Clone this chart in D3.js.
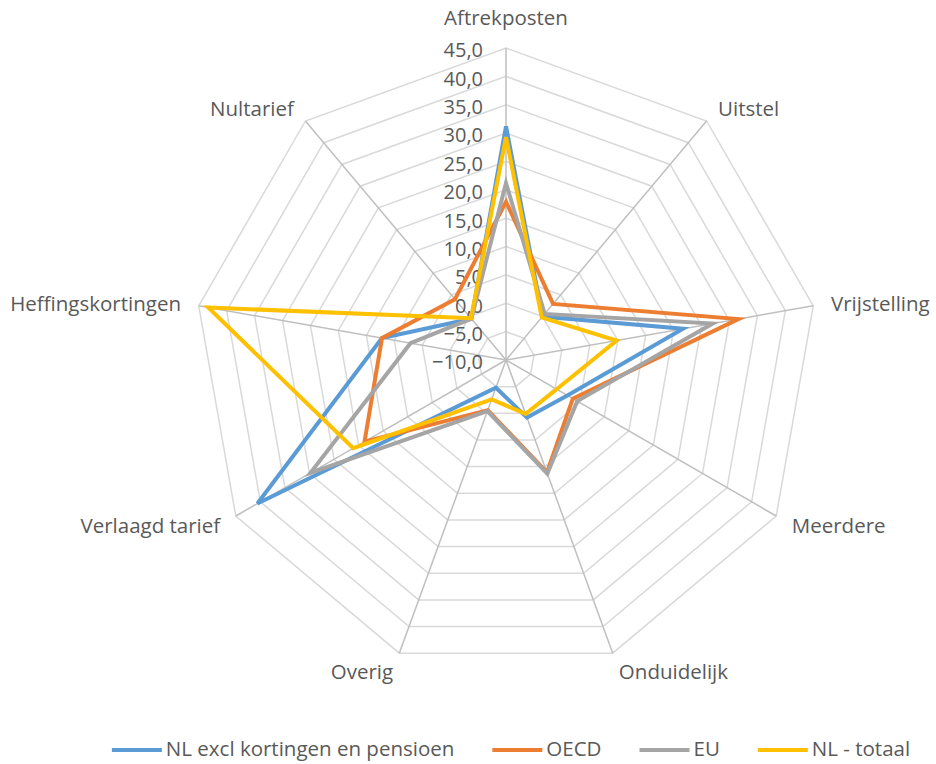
<!DOCTYPE html>
<html>
<head>
<meta charset="utf-8">
<script src="https://cdn.jsdelivr.net/npm/d3@7"></script>
<style>
  body { margin: 0; background: #fff; }
  text { font-family: "Open Sans", sans-serif; fill: #595959; }
</style>
</head>
<body>
<div id="chart"></div>
<script>
// categories, clockwise from top
var categorieen = ["Aftrekposten", "Uitstel", "Vrijstelling", "Meerdere", "Onduidelijk", "Overig", "Verlaagd tarief", "Heffingskortingen", "Nultarief"];
var reeksnamen = ["NL excl kortingen en pensioen", "OECD", "EU", "NL - totaal"];
var kleuren = ["#5B9BD5", "#ED7D31", "#A5A5A5", "#FFC000"];

var nlExcl = [31.2, 0.0, 21.7, 2.5, 0.8, -4.8, 40.6, 12.2, -0.5];
var oecd = [17.9, 2.9, 31.6, 3.6, 11.1, -0.6, 18.8, 12.2, 4.0];
var eu = [21.2, 0.6, 27.0, 4.5, 11.3, -0.4, 29.8, 7.1, -0.5];
var nlTotaal = [29.3, -0.2, 9.8, 0.3, 0.1, -2.6, 21.1, 43.3, -0.4];
var reeksen = [nlExcl, oecd, eu, nlTotaal];

var tickwaarden = [-10, -5, 0, 5, 10, 15, 20, 25, 30, 35, 40, 45];

var breedte = 936, hoogte = 764;
var cx = 506, cy = 360, straal = 312;

var svg = d3.select("#chart").append("svg")
    .attr("width", breedte)
    .attr("height", hoogte);

var r = d3.scaleLinear().domain([-10, 45]).range([0, straal]);
var hoek = d3.scaleLinear().domain([0, categorieen.length]).range([0, 2 * Math.PI]);

function punt(i, v) {
    var a = hoek(i);
    return [cx + Math.sin(a) * r(v), cy - Math.cos(a) * r(v)];
}

var g = svg.append("g");

// rings
g.selectAll("polygon.ring")
    .data(tickwaarden.slice(1))
    .enter()
    .append("polygon")
    .attr("class", "ring")
    .attr("points", function (t) {
        return categorieen.map(function (c, i) { return punt(i, t).join(","); }).join(" ");
    })
    .attr("fill", "none")
    .attr("stroke", "#d9d9d9")
    .attr("stroke-width", 1.5);

// spokes
g.selectAll("line.spaak")
    .data(categorieen)
    .enter()
    .append("line")
    .attr("class", "spaak")
    .attr("x1", cx).attr("y1", cy)
    .attr("x2", function (d, i) { return punt(i, 45)[0]; })
    .attr("y2", function (d, i) { return punt(i, 45)[1]; })
    .attr("stroke", "#bfbfbf")
    .attr("stroke-width", 1.5);

// tick labels
var fmt = d3.format(".1f");
g.selectAll("text.tick")
    .data(tickwaarden)
    .enter()
    .append("text")
    .attr("class", "tick")
    .attr("x", cx - 23)
    .attr("y", function (t) { return cy - r(t) + 4; })
    .attr("text-anchor", "end")
    .attr("dominant-baseline", "middle")
    .attr("font-size", 20)
    .text(function (t) { return fmt(t).replace(".", ","); });

// category labels
g.selectAll("text.cat")
    .data(categorieen)
    .enter()
    .append("text")
    .attr("class", "cat")
    .attr("x", function (d, i) { return cx + Math.sin(hoek(i)) * (straal + 18); })
    .attr("y", function (d, i) {
        if (i === 0) { return 20; }
        return cy - Math.cos(hoek(i)) * (straal + 18) + 3;
    })
    .attr("text-anchor", function (d, i) {
        var s = Math.sin(hoek(i));
        if (Math.abs(s) < 0.1) { return "middle"; }
        return s > 0 ? "start" : "end";
    })
    .attr("dominant-baseline", "middle")
    .attr("font-size", 20.5)
    .text(function (d) { return d; });

// series
var lijn = d3.line()
    .x(function (d) { return punt(d.i, d.v)[0]; })
    .y(function (d) { return punt(d.i, d.v)[1]; })
    .curve(d3.curveLinearClosed);

g.selectAll("path.reeks")
    .data(reeksen)
    .enter()
    .append("path")
    .attr("class", "reeks")
    .attr("d", function (s) { return lijn(s.map(function (v, i) { return { i: i, v: v }; })); })
    .attr("fill", "none")
    .attr("stroke", function (d, i) { return kleuren[i]; })
    .attr("stroke-width", 4)
    .attr("stroke-linejoin", "miter");

// legend
var leg = svg.append("g").attr("transform", "translate(0,750)");
var items = leg.selectAll("g.item")
    .data(reeksnamen)
    .enter()
    .append("g")
    .attr("class", "item");
items.append("line")
    .attr("x1", 0).attr("x2", 50)
    .attr("y1", 0).attr("y2", 0)
    .attr("stroke", function (d, i) { return kleuren[i]; })
    .attr("stroke-width", 4);
items.append("text")
    .attr("x", 54)
    .attr("y", 1)
    .attr("dominant-baseline", "middle")
    .attr("font-size", 20.5)
    .text(function (d) { return d; });

var xpos = [];
var totaal = 0;
items.each(function (d, i) {
    var w = 54 + this.querySelector("text").getComputedTextLength();
    xpos.push(totaal);
    totaal += w + (i < reeksnamen.length - 1 ? 38 : 0);
});
var start = 511 - totaal / 2;
items.attr("transform", function (d, i) { return "translate(" + (start + xpos[i]) + ",0)"; });
</script>
</body>
</html>
